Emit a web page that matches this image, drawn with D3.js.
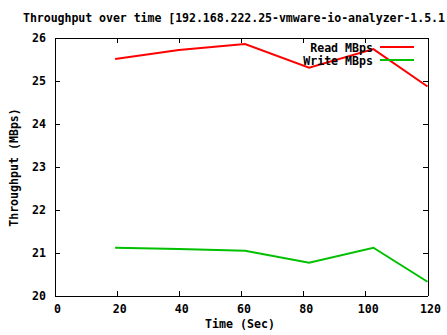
<!DOCTYPE html>
<html>
<head>
<meta charset="utf-8">
<script src="https://cdn.jsdelivr.net/npm/d3@7"></script>
<style>
  html, body { margin: 0; padding: 0; background: #fff; }
  svg { display: block; }
  text { font-family: "DejaVu Sans Mono", "Liberation Mono", monospace; font-weight: bold; font-size: 11.6px; fill: #000; }
</style>
</head>
<body>
<svg id="chart" width="447" height="335"></svg>
<script>
// Sample times (seconds) and throughput readings (MBps)
const times = [19.5, 40, 61.3, 81.9, 102.6, 120];
const readMBps = [25.50, 25.71, 25.85, 25.30, 25.73, 24.86];
const writeMBps = [21.11, 21.08, 21.04, 20.76, 21.11, 20.32];

const xTicks = [0, 20, 40, 60, 80, 100, 120];
const yTicks = [20, 21, 22, 23, 24, 25, 26];

const seriesNames = ["Read MBps", "Write MBps"];
const seriesColors = ["#ff0000", "#00c000"];

const titleText = "Throughput over time [192.168.222.25-vmware-io-analyzer-1.5.1";
const xTitle = "Time (Sec)";
const yTitle = "Throughput (MBps)";

const svg = d3.select("#chart");
const plotL = 54.5, plotR = 427.5, plotT = 37.5, plotB = 295.5;

const x = d3.scaleLinear().domain([0, 120]).range([plotL, plotR]);
const y = d3.scaleLinear().domain([20, 26]).range([plotB, plotT]);

// Title, running to the right edge of the canvas
svg.append("text")
  .attr("x", 23)
  .attr("y", 22)
  .attr("text-anchor", "start")
  .attr("textLength", 422)
  .attr("lengthAdjust", "spacing")
  .text(titleText);

const tick = 5;

// Bottom axis with inward ticks and labels
const gx = svg.append("g")
  .attr("transform", `translate(0,${plotB})`)
  .call(d3.axisBottom(x).tickValues(xTicks).tickSizeInner(-tick).tickSizeOuter(0).tickFormat(d3.format("d")));
gx.selectAll("text").attr("y", 17).attr("dy", 0).attr("dx", 2.5);

// Top mirror axis
svg.append("g")
  .attr("transform", `translate(0,${plotT})`)
  .call(d3.axisTop(x).tickValues(xTicks).tickSizeInner(-tick).tickSizeOuter(0).tickFormat(""));

// Left axis with inward ticks and labels
const gy = svg.append("g")
  .attr("transform", `translate(${plotL},0)`)
  .call(d3.axisLeft(y).tickValues(yTicks).tickSizeInner(-tick).tickSizeOuter(0).tickFormat(d3.format("d")));
gy.selectAll("text").attr("x", -8.5).attr("dy", "0.36em");

// Right mirror axis
svg.append("g")
  .attr("transform", `translate(${plotR},0)`)
  .call(d3.axisRight(y).tickValues(yTicks).tickSizeInner(-tick).tickSizeOuter(0).tickFormat(""));

svg.selectAll(".domain, .tick line").attr("stroke", "#000").attr("stroke-width", 1).attr("shape-rendering", "crispEdges");
svg.selectAll("g").attr("font-family", null).attr("font-size", null);
svg.selectAll(".tick text").attr("fill", "#000");

// Axis titles
svg.append("text")
  .attr("x", (plotL + plotR) / 2 - 1)
  .attr("y", 328)
  .attr("text-anchor", "middle")
  .text(xTitle);

svg.append("text")
  .attr("transform", `translate(18,${(plotT + plotB) / 2 + 1}) rotate(-90)`)
  .attr("text-anchor", "middle")
  .text(yTitle);

// Series lines
const line = d3.line().x((d, i) => x(times[i])).y(d => y(d));
[readMBps, writeMBps].forEach((vals, k) => {
  svg.append("path")
    .datum(vals)
    .attr("fill", "none")
    .attr("stroke", seriesColors[k])
    .attr("stroke-width", 2)
    .attr("stroke-linejoin", "miter")
    .attr("d", line);
});

// Legend
const legendY = [47, 60];
seriesNames.forEach((name, k) => {
  svg.append("text")
    .attr("x", 373)
    .attr("y", legendY[k] + 4.5)
    .attr("text-anchor", "end")
    .text(name);
  svg.append("line")
    .attr("x1", 380).attr("x2", 414)
    .attr("y1", legendY[k]).attr("y2", legendY[k])
    .attr("stroke", seriesColors[k])
    .attr("stroke-width", 2);
});
</script>
</body>
</html>
